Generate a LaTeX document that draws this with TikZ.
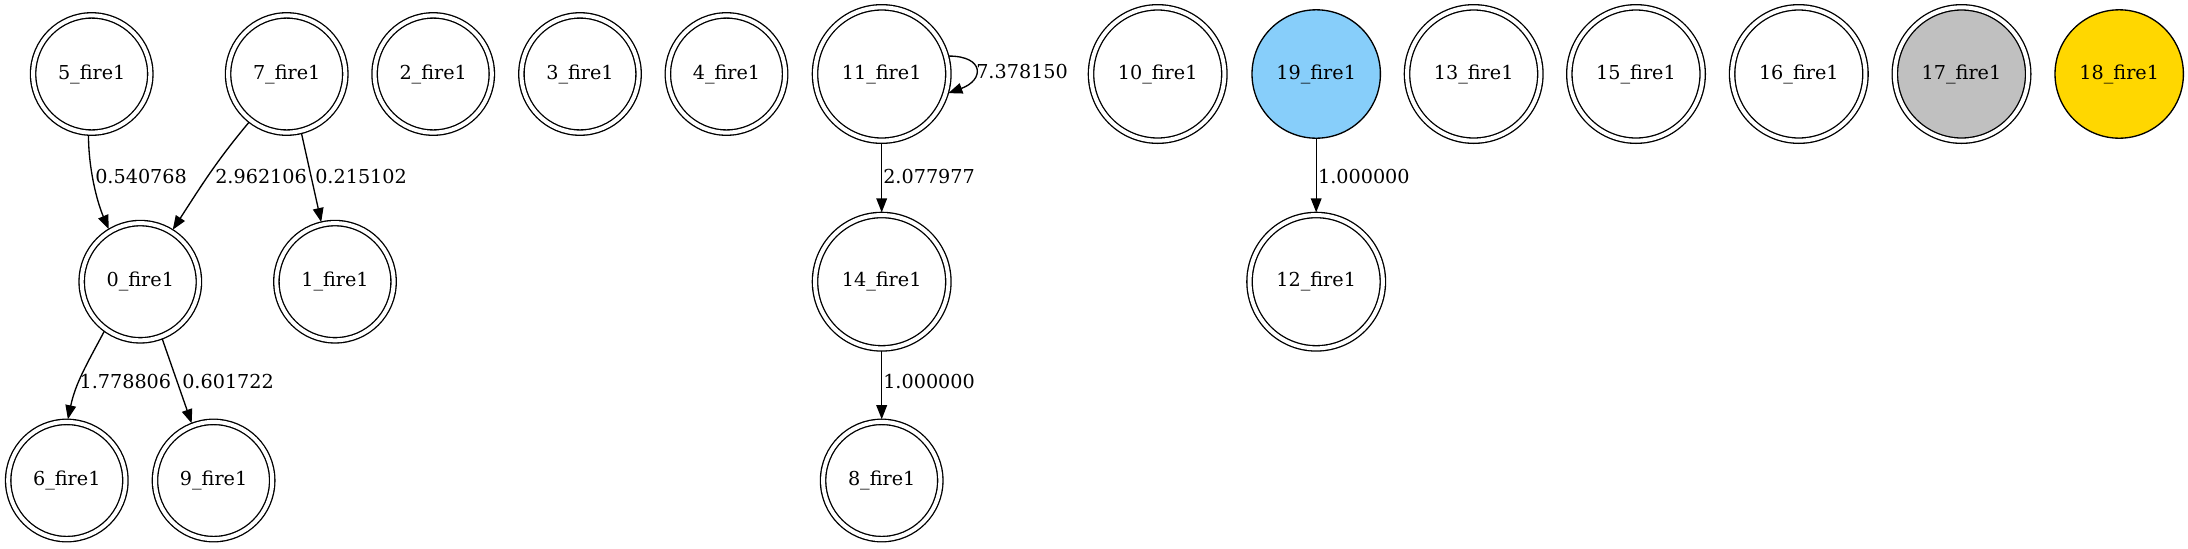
\documentclass[tikz,border=0pt]{standalone}
\usepackage{fontspec}
\setmainfont{DejaVu Serif}
\usetikzlibrary{arrows.meta}
\definecolor{skyb}{HTML}{87CEFA}
\definecolor{graybg}{HTML}{C0C0C0}
\definecolor{goldc}{HTML}{FFD700}
\begin{document}
\begin{tikzpicture}[x=0.75bp, y=-0.75bp,
  every node/.style={font=\fontsize{14.4bp}{17bp}\selectfont},
  dblA/.style={circle, draw, line width=1bp, double, double distance=3bp, inner sep=0pt, outer sep=2bp, minimum size=87.9bp},
  dblB/.style={dblA, minimum size=100bp},
  sng/.style={circle, draw, line width=1bp, inner sep=0pt, outer sep=0.5bp, minimum size=96.3bp},
  edge/.style={line width=1bp, -{Triangle[length=10.5bp,width=8bp]}},
  lbl/.style={anchor=west, inner sep=0pt}]
\useasboundingbox (0,0) rectangle (2188,548);
% top row
\node[dblA] (n5) at (91.7,74) {5\_fire1};
\node[dblA] (n7) at (286.7,74) {7\_fire1};
\node[dblA] (n2) at (433.2,74) {2\_fire1};
\node[dblA] (n3) at (580,74) {3\_fire1};
\node[dblA] (n4) at (726.5,74) {4\_fire1};
\node[dblB] (n11) at (881.7,74) {11\_fire1};
\node[dblB] (n10) at (1157.7,74) {10\_fire1};
\node[sng, fill=skyb] (n19) at (1316.2,74) {19\_fire1};
\node[dblB] (n13) at (1473.7,74) {13\_fire1};
\node[dblB] (n15) at (1636,74) {15\_fire1};
\node[dblB] (n16) at (1798.8,74) {16\_fire1};
\node[dblB, fill=graybg] (n17) at (1961.5,74) {17\_fire1};
\node[sng, fill=goldc] (n18) at (2119.2,74) {18\_fire1};
% middle row
\node[dblA] (n0) at (140.3,281.7) {0\_fire1};
\node[dblA] (n1) at (335,281.7) {1\_fire1};
\node[dblB] (n14) at (881.7,281.7) {14\_fire1};
\node[dblB] (n12) at (1316.2,281.7) {12\_fire1};
% bottom row
\node[dblA] (n6) at (66.8,480.5) {6\_fire1};
\node[dblA] (n9) at (213.6,480.5) {9\_fire1};
\node[dblA] (n8) at (881.7,480.5) {8\_fire1};
% edges
\draw[edge] (n5.-93) .. controls +(0,33) and +(-12,-28) .. (n0.121);
\draw[edge] (n7.-128) to[out=-130, in=57] (n0.58);
\draw[edge] (n7.-76) -- (n1.103);
\draw[edge] (n0.-126) to[out=-118, in=78] (n6.89);
\draw[edge] (n0.-69) -- (n9.111);
\draw[edge] (n11) -- (n14);
\draw[edge] (n14) -- (n8);
\draw[edge] (n19) -- (n12);
\draw[edge] (n11.15) .. controls +(36,0) and +(36,-13) .. (n11.-16);
% labels
\node[lbl] (l50) at (95,176.7) {0.540768};
\node[lbl] (l70) at (215,176.7) {2.962106};
\node[lbl] (l71) at (315,176.7) {0.215102};
\node[lbl] (l06) at (79.3,382) {1.778806};
\node[lbl] (l09) at (182,382) {0.601722};
\node[lbl] (l1114) at (883,176.7) {2.077977};
\node[lbl] (l148) at (883,382) {1.000000};
\node[lbl] (l1912) at (1317.8,176.7) {1.000000};
\node[lbl] (l1111) at (976,71.7) {7.378150};
\end{tikzpicture}
\end{document}
